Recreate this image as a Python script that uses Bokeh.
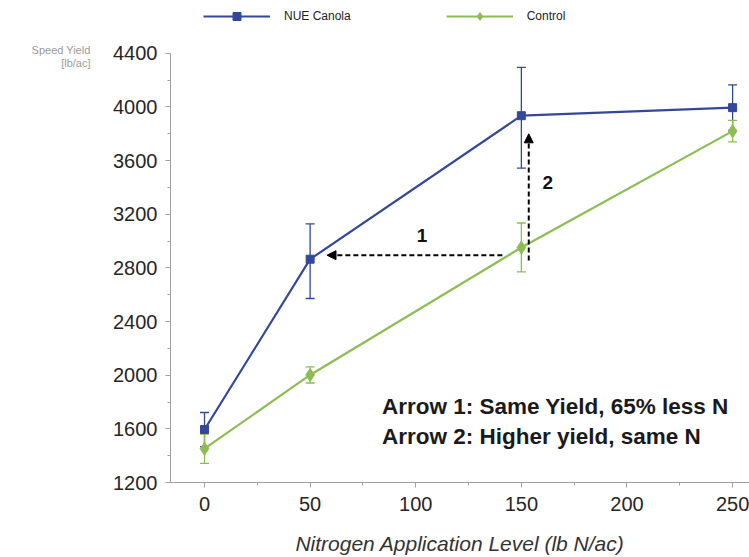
from bokeh.plotting import figure
from bokeh.models import (ColumnDataSource, Whisker, TeeHead, Arrow, NormalHead,
                          Label, Legend, LegendItem, FixedTicker, Range1d, LinearAxis)
from bokeh.embed import file_html
from bokeh.resources import INLINE

nitrogen = [0, 50, 150, 250]
nue_yield = [1595, 2865, 3935, 3995]
nue_upper = [1722, 3128, 4296, 4165]
nue_lower = [1468, 2572, 3544, 3825]
ctl_yield = [1452, 2002, 2952, 3820]
ctl_upper = [1560, 2062, 3135, 3900]
ctl_lower = [1342, 1942, 2770, 3740]
x_ticks = [0, 50, 100, 150, 200, 250]
y_ticks = [1200, 1600, 2000, 2400, 2800, 3200, 3600, 4000, 4400]
y_caption = ["Speed Yield", "[lb/ac]"]

BLUE = "#33489a"
GREEN = "#8dbd52"
FONT = "Liberation Sans"

p = figure(width=749, height=557, output_backend="svg", toolbar_location=None,
           x_range=Range1d(-16.1, 258), y_range=Range1d(1200, 4794),
           min_border_left=170, min_border_right=0, min_border_top=0,
           min_border_bottom=74)
p.outline_line_color = None
p.grid.grid_line_color = None
p.background_fill_color = "white"

p.xaxis.ticker = FixedTicker(ticks=x_ticks, minor_ticks=[25, 75, 125, 175, 225])
p.yaxis.ticker = FixedTicker(ticks=y_ticks, minor_ticks=[1400, 1800, 2200, 2600, 3000, 3400, 3800, 4200])
p.yaxis.bounds = (1200, 4400)
for ax in (p.xaxis, p.yaxis):
    ax.axis_line_color = "#a0a0a0"
    ax.major_tick_line_color = "#a0a0a0"
    ax.minor_tick_line_color = "#a0a0a0"
    ax.major_tick_out = 5
    ax.major_tick_in = 0
    ax.minor_tick_out = 3
    ax.minor_tick_in = 0
    ax.major_label_text_font = FONT
    ax.major_label_text_font_size = "20px"
    ax.major_label_text_color = "#262626"
p.yaxis.major_label_standoff = 8
p.xaxis.major_label_standoff = 9
p.xaxis.axis_label = "Nitrogen Application Level (lb N/ac)"
p.xaxis.axis_label_text_font = FONT
p.xaxis.axis_label_text_font_style = "italic"
p.xaxis.axis_label_text_font_size = "21px"
p.xaxis.axis_label_text_color = "#333333"
p.xaxis.axis_label_standoff = 18

# y caption as an outer, line-less axis carrying two labels near the top
cap_ticks = [4422, 4326]
cap_axis = LinearAxis(ticker=FixedTicker(ticks=cap_ticks, minor_ticks=[]),
                      major_label_overrides={cap_ticks[0]: y_caption[0], cap_ticks[1]: y_caption[1]},
                      axis_line_color=None, major_tick_line_color=None, minor_tick_line_color=None,
                      major_tick_out=0, major_tick_in=0, major_label_standoff=20,
                      major_label_text_font=FONT, major_label_text_font_size="11px",
                      major_label_text_color="#9a9a9a")
p.add_layout(cap_axis, "left")

src_n = ColumnDataSource(dict(x=nitrogen, y=nue_yield, up=nue_upper, lo=nue_lower))
src_c = ColumnDataSource(dict(x=nitrogen, y=ctl_yield, up=ctl_upper, lo=ctl_lower))

for src, col in ((src_n, BLUE), (src_c, GREEN)):
    w = Whisker(source=src, base="x", upper="up", lower="lo", line_color=col, line_width=1.3,
                upper_head=TeeHead(size=9, line_color=col, line_width=1.3),
                lower_head=TeeHead(size=9, line_color=col, line_width=1.3))
    p.add_layout(w)

cl = p.line("x", "y", source=src_c, line_color=GREEN, line_width=2.2)
cm = p.scatter("x", "y", source=src_c, marker="diamond", size=13, fill_color=GREEN, line_color=GREEN)
nl = p.line("x", "y", source=src_n, line_color=BLUE, line_width=2.2)
nm = p.scatter("x", "y", source=src_n, marker="square", size=8, fill_color=BLUE, line_color=BLUE)

# arrows
p.add_layout(Arrow(x_start=141, y_start=2895, x_end=58, y_end=2895,
                   line_color="black", line_width=2, line_dash="5 3",
                   end=NormalHead(size=9, fill_color="black", line_color="black")))
p.add_layout(Arrow(x_start=153.5, y_start=2855, x_end=153.5, y_end=3800,
                   line_color="black", line_width=2, line_dash="5 3",
                   end=NormalHead(size=9, fill_color="black", line_color="black")))

for txt, x, y in (("1", 103, 3045), ("2", 162.5, 3440)):
    p.add_layout(Label(x=x, y=y, text=txt, text_font=FONT, text_font_style="bold",
                       text_font_size="19px", text_align="center", text_baseline="middle",
                       text_color="#111111"))

for txt, y in (("Arrow 1: Same Yield, 65% less N", 1766), ("Arrow 2: Higher yield, same N", 1543)):
    p.add_layout(Label(x=84.0, y=y, text=txt, text_font=FONT, text_font_style="bold",
                       text_font_size="22.5px", text_align="left", text_baseline="middle",
                       text_color="#1a1a1a"))

legend = Legend(items=[LegendItem(label="NUE Canola", renderers=[nl, nm]),
                       LegendItem(label="Control", renderers=[cl, cm])],
                orientation="horizontal", location=(33, 456))
legend.glyph_width = 67
legend.glyph_height = 20
legend.label_standoff = 14
legend.spacing = 95
legend.padding = 0
legend.margin = 0
legend.border_line_color = None
legend.background_fill_alpha = 0
legend.label_text_font = FONT
legend.label_text_font_size = "12px"
legend.label_text_color = "#222222"
p.add_layout(legend, "center")

open("out.html", "w").write(file_html(p, INLINE))
